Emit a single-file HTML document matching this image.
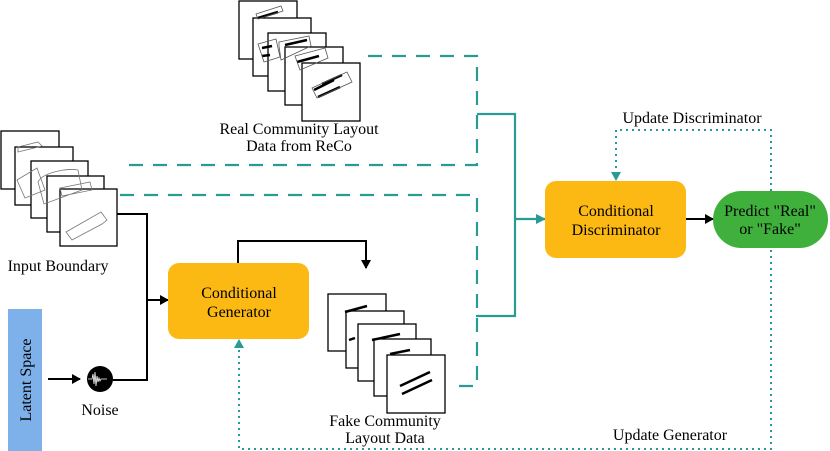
<!DOCTYPE html>
<html><head><meta charset="utf-8"><style>
html,body{margin:0;padding:0;background:#fff;}
svg{display:block;font-family:"Liberation Serif",serif;}
</style></head><body>
<svg width="830" height="451" viewBox="0 0 830 451" xmlns="http://www.w3.org/2000/svg">
<defs>
<marker id="ab" markerWidth="9" markerHeight="10" refX="8" refY="5" orient="auto" markerUnits="userSpaceOnUse"><path d="M0,0 L9,5 L0,10 z" fill="#000"/></marker>
<marker id="at" markerWidth="10" markerHeight="10" refX="9" refY="5" orient="auto" markerUnits="userSpaceOnUse"><path d="M0,0 L10,5 L0,10 z" fill="#2a9a95"/></marker>
</defs>
<g stroke="#000" stroke-width="1.3" fill="#fff">
<rect x="239" y="1" width="58" height="58"/>
<rect x="253" y="18" width="58" height="58"/>
<rect x="268" y="33" width="58" height="58"/>
<rect x="285" y="47" width="58" height="58"/>
<rect x="302" y="63" width="58" height="58"/>
</g>
<g stroke="#000" stroke-width="2.5">
<path d="M258,18 l20,-6 M262,48 l10,-2 M262,56 l8,-1 M285,45 l22,-5 M297,62 l22,-6 M314,90 l20,-10 M318,97 l22,-10 M322,84 l20,-9"/>
</g>
<g fill="none" stroke="#555" stroke-width="0.8">
<path d="M256,14 l25,-8 l2,5 l-25,8z M258,44 l18,-5 l4,18 l-16,5z M279,42 l30,-6 l2,10 l-30,14 l-2,-14z M295,56 l30,-8 l3,10 l-28,12z M312,88 l35,-16 l5,10 l-35,16z"/>
</g>
<g stroke="#000" stroke-width="1.3" fill="#fff">
<rect x="1" y="131" width="58" height="58"/>
<rect x="15" y="147" width="58" height="58"/>
<rect x="31" y="161" width="57" height="57"/>
<rect x="47" y="176" width="57" height="56"/>
<rect x="60" y="189" width="57" height="57"/>
</g>
<g fill="none" stroke="#777" stroke-width="0.8">
<path d="M18,147 l20,-5 l4,4 l-24,6z M17,180 l20,-12 l8,22 l-20,8z M38,182 c5,-10 30,-14 40,-12 l4,20 l-38,14z M60,188 l30,-6 l2,8 l-30,6z M66,232 l35,-20 l6,8 l-5,4 l-30,16z"/>
</g>
<text x="58" y="271" font-size="16" text-anchor="middle">Input Boundary</text>
<text x="299" y="134" font-size="16" text-anchor="middle">Real Community Layout</text>
<text x="299" y="151" font-size="16" text-anchor="middle">Data from ReCo</text>
<g stroke="#000" stroke-width="1.3" fill="#fff">
<rect x="328" y="294" width="58" height="57"/>
<rect x="346" y="311" width="58" height="57"/>
<rect x="358" y="324" width="58" height="57"/>
<rect x="374" y="339" width="57" height="57"/>
<rect x="387" y="355" width="58" height="58"/>
</g>
<g stroke="#000" stroke-width="2.5">
<path d="M345,312 l22,-6 M349,340 l6,-2 M372,340 l28,-6 M390,354 l20,-4 M400,386 l30,-14 M402,394 l30,-14"/>
</g>
<text x="385" y="426" font-size="16" text-anchor="middle">Fake Community</text>
<text x="385" y="443" font-size="16" text-anchor="middle">Layout Data</text>
<rect x="8" y="309" width="34" height="142" fill="#7eb0ea"/>
<text transform="translate(31,380) rotate(-90)" font-size="16" text-anchor="middle">Latent Space</text>
<line x1="48" y1="379" x2="80" y2="379" stroke="#000" stroke-width="2" marker-end="url(#ab)"/>
<circle cx="100" cy="379" r="13" fill="#000"/>
<path d="M88,379 l4,0 l1,-5 l1,10 l1,-12 l1,14 l1,-10 l1,6 l1,-4 l1,3 l1,-2 l6,0" stroke="#fff" stroke-width="0.8" fill="none"/>
<text x="100" y="415" font-size="16" text-anchor="middle">Noise</text>
<path d="M117,214 H147 V380 H113" fill="none" stroke="#000" stroke-width="2"/>
<line x1="147" y1="300" x2="168" y2="300" stroke="#000" stroke-width="2" marker-end="url(#ab)"/>
<path d="M238,263 V241 H366 V268" fill="none" stroke="#000" stroke-width="2" marker-end="url(#ab)"/>
<rect x="168" y="263" width="141" height="76" rx="11" fill="#fdb913"/>
<text x="239" y="298" font-size="16" text-anchor="middle">Conditional</text>
<text x="239" y="317" font-size="16" text-anchor="middle">Generator</text>
<g fill="none" stroke="#2a9a95" stroke-width="2.2" stroke-dasharray="14,10">
<path d="M368,56 H477 V165 H120"/>
<path d="M120,195 H477 V386 H450"/>
</g>
<path d="M477,114 H515 V316 H476" fill="none" stroke="#2a9a95" stroke-width="2.2"/>
<line x1="515" y1="219" x2="545" y2="219" stroke="#2a9a95" stroke-width="2.2" marker-end="url(#at)"/>
<rect x="545" y="181" width="141" height="77" rx="11" fill="#fdb913"/>
<text x="616" y="216" font-size="16" text-anchor="middle">Conditional</text>
<text x="616" y="235" font-size="16" text-anchor="middle">Discriminator</text>
<line x1="686" y1="219" x2="713" y2="219" stroke="#000" stroke-width="2" marker-end="url(#ab)"/>
<rect x="713" y="191" width="115" height="57" rx="28.5" fill="#3fb03c"/>
<text x="770" y="216" font-size="16" text-anchor="middle">Predict "Real"</text>
<text x="770" y="234" font-size="16" text-anchor="middle">or "Fake"</text>
<g fill="none" stroke="#2a9a95" stroke-width="2" stroke-dasharray="2,4">
<path d="M771,191 V130 H616 V172"/>
<path d="M771,250 V449 H239 V348"/>
</g>
<path d="M611,172 L621,172 L616,181z" fill="#2a9a95"/>
<path d="M234,348 L244,348 L239,339z" fill="#2a9a95"/>
<text x="692" y="123" font-size="16" text-anchor="middle">Update Discriminator</text>
<text x="670" y="440" font-size="16" text-anchor="middle">Update Generator</text>
</svg>
</body></html>
